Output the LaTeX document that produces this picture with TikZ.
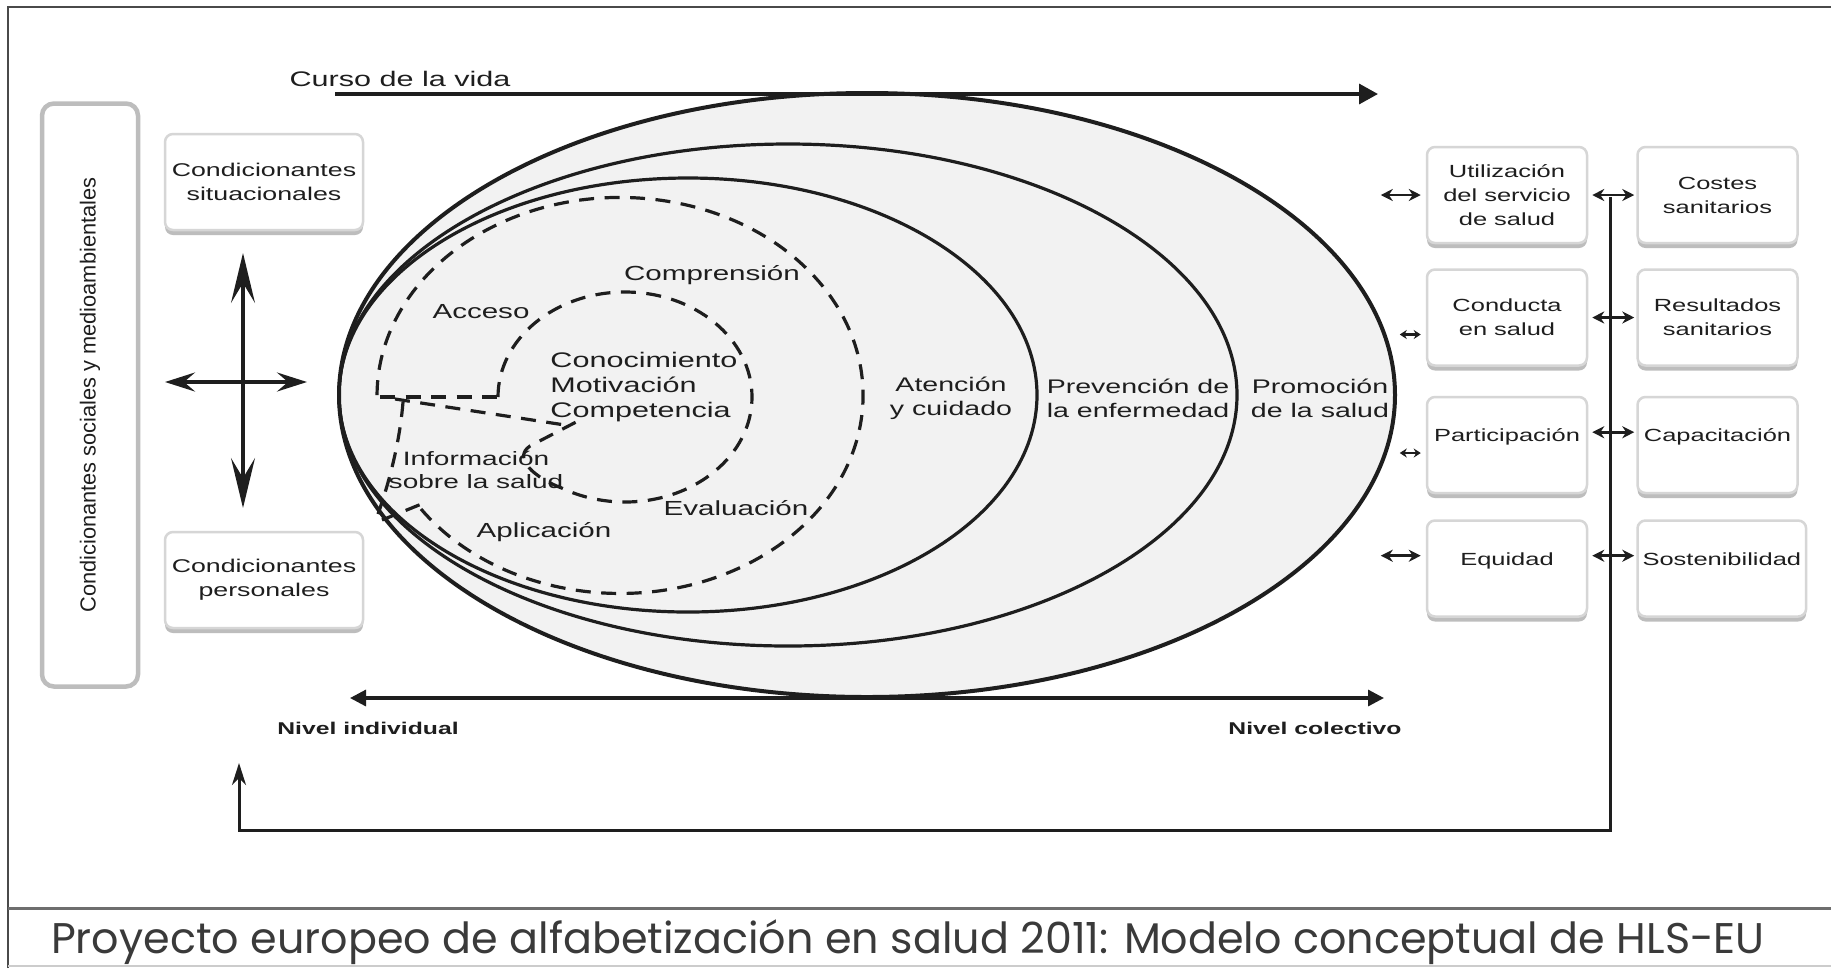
\documentclass[tikz,border=0pt]{standalone}
\usepackage{fontspec}
\usepackage{tikz}
\usetikzlibrary{positioning,arrows.meta,shadows}
\setmainfont{Liberation Sans}[FakeStretch=1.45]
\newfontfamily\plainsans{Liberation Sans}
\newfontfamily\capsans{Poppins}
\definecolor{cInk}{HTML}{1E1E1E}
\definecolor{cFill}{HTML}{F2F2F2}
\definecolor{cBoxLine}{HTML}{D6D6D6}
\definecolor{cShadow}{HTML}{BDBDBD}
\definecolor{cFrame}{HTML}{4A4A4A}
\definecolor{cCap}{HTML}{3A3A3A}
\tikzset{
  blk/.style={draw=cBoxLine, line width=0.25mm, fill=white, rounded corners=0.8mm,
              align=center, inner sep=0.5mm, text=cInk, font=\fontsize{5.0}{6.8}\selectfont,
              drop shadow={shadow xshift=0mm, shadow yshift=-0.5mm, fill=cShadow, opacity=1}},
  lbox/.style={blk, minimum width=19.8mm, minimum height=9.6mm, font=\fontsize{5.25}{6.9}\selectfont},
  rbox/.style={blk, minimum width=16mm, minimum height=9.6mm},
  hibox/.style={text height=1.5mm, text depth=2.2mm},
  lbl/.style={text=cInk, align=center, inner sep=0.5pt, font=\fontsize{5.8}{6.9}\selectfont},
  rng/.style={text=cInk, align=center, inner sep=0.5pt, font=\fontsize{5.6}{6.8}\selectfont},
  ring/.style={draw=cInk, line width=0.32mm},
  dsh/.style={draw=cInk, line width=0.32mm, dash pattern=on 1.5mm off 1.05mm},
  curar/.style={draw=cInk, line width=0.34mm, -{Triangle[length=1.9mm,width=2mm]}},
  nivar/.style={draw=cInk, line width=0.32mm, {Triangle[length=1.6mm,width=1.6mm]}-{Triangle[length=1.6mm,width=1.6mm]}},
  crossv/.style={draw=cInk, line width=0.34mm, {Stealth[length=5mm,width=2.4mm,inset=2mm]}-{Stealth[length=5mm,width=2.4mm,inset=2mm]}},
  crossh/.style={draw=cInk, line width=0.34mm, {Stealth[length=3mm,width=1.9mm,inset=1.1mm]}-{Stealth[length=3mm,width=1.9mm,inset=1.1mm]}},
  dar/.style={draw=cInk, line width=0.27mm, {Stealth[length=1.2mm,width=1.2mm]}-{Stealth[length=1.2mm,width=1.2mm]}},
  dars/.style={draw=cInk, line width=0.22mm, {Stealth[length=0.7mm,width=0.9mm]}-{Stealth[length=0.7mm,width=0.9mm]}},
  fbar/.style={draw=cInk, line width=0.3mm, -{Stealth[length=2.2mm,width=1.4mm,inset=0.7mm]}},
}

\begin{document}
\begin{tikzpicture}[x=0.1mm, y=-0.1mm]
  \useasboundingbox (0,0) rectangle (1831,968);
  \fill[white] (0,0) rectangle (1831,968);
  \draw[cFrame, line width=0.2mm] (8,968) -- (8,7) -- (1831,7);
  \draw[cFrame!80, line width=0.3mm] (8,908) -- (1831,908);
  \draw[black!20, line width=0.15mm] (8,966) -- (1831,966);

  \fill[cFill] (867,395) ellipse[x radius=528, y radius=302];
  \draw[ring, line width=0.4mm] (867,395) ellipse[x radius=528, y radius=302];
  \draw[ring] (788,395) ellipse[x radius=449, y radius=251];
  \draw[ring] (688,395) ellipse[x radius=349, y radius=217];

  \draw[dsh] (421,509) arc[start angle=145, end angle=-180, x radius=243, y radius=198];
  \draw[dsh] (380,397) -- (500,397);
  \draw[dsh] (403,402) .. controls (400,440) and (390,480) .. (378,514);
  \draw[dsh] (382,520) -- (424,503);
  \draw[dsh] (395,399) -- (565,425);
  \draw[dsh] (498,397) arc[start angle=180, end angle=480, x radius=127, y radius=105]
    .. controls (535,478) and (512,458) .. (530,446) -- (578,421);

  \node[lbl] (acc) at (481,312) {Acceso};
  \node[lbl] (comp) at (712,275) {Comprensión};
  \node[lbl, align=left, anchor=west, font=\fontsize{6.0}{7.0}\selectfont] (kmc) at (548,387)
    {Conocimiento\\Motivación\\Competencia};
  \node[lbl, font=\fontsize{5.5}{6.5}\selectfont] (info) at (476,470) {Información\\sobre la salud};
  \node[lbl] (apl) at (544,532) {Aplicación};
  \node[lbl] (eva) at (736,508) {Evaluación};
  \node[rng] (aten) at (951,398) {Atención\\y cuidado};
  \node[rng] (prev) at (1138,398) {Prevención de\\la enfermedad};
  \node[rng] (prom) at (1320,398) {Promoción\\de la salud};

  \node[lbl, font=\fontsize{6.0}{7.0}\selectfont] (curso) at (400,79) {Curso de la vida};
  \coordinate (cursoS) at (335,94);
  \coordinate (cursoE) at (1378,94);
  \draw[curar] (cursoS) -- (cursoE);
  \coordinate (nivL) at (350,698);
  \coordinate (nivR) at (1384,698);
  \draw[nivar] (nivL) -- (nivR);
  \node[lbl, font=\bfseries\fontsize{4.85}{6}\selectfont] (nivi) at (368,728) {Nivel individual};
  \node[lbl, font=\bfseries\fontsize{4.85}{6}\selectfont] (nivc) at (1315,728) {Nivel colectivo};

  \node[draw=cShadow, line width=0.45mm, rounded corners=1.2mm, fill=white, rotate=90,
        minimum width=58.3mm, minimum height=9.6mm, text=cInk,
        font=\plainsans\fontsize{6.2}{7}\selectfont] (soc) at (90,395)
    {Condicionantes sociales y medioambientales};
  \node[lbox] (sit) at (264,182) {Condicionantes\\situacionales};
  \node[lbox] (pers) at (264,580) {Condicionantes\\personales};
  \coordinate (crN) at (243,253);
  \coordinate (crS) at (243,508);
  \coordinate (crW) at (165,382);
  \coordinate (crE) at (307,382);
  \draw[crossv] (crN) -- (crS);
  \draw[crossh] (crW) -- (crE);

  \node[rbox] (util) at (1507,195) {Utilización\\del servicio\\de salud};
  \node[rbox, below=2.4mm of util] (cond) {Conducta\\en salud};
  \node[rbox, hibox, below=2.9mm of cond] (part) {Participación};
  \node[rbox, hibox, below=2.5mm of part] (equi) {Equidad};
  \node[rbox, right=4.8mm of util] (cost) {Costes\\sanitarios};
  \node[rbox, right=4.8mm of cond] (resu) {Resultados\\sanitarios};
  \node[rbox, hibox, right=4.8mm of part] (capa) {Capacitación};
  \node[rbox, hibox, right=4.8mm of equi] (sost) {Sostenibilidad};

  \draw[dar] ([xshift=-4.5mm]util.west) -- ([xshift=-0.5mm]util.west);
  \draw[dars] ([xshift=-2.6mm,yshift=-1.7mm]cond.west) -- ([xshift=-0.5mm,yshift=-1.7mm]cond.west);
  \draw[dars] ([xshift=-2.6mm,yshift=-0.8mm]part.west) -- ([xshift=-0.5mm,yshift=-0.8mm]part.west);
  \draw[dar] ([xshift=-4.5mm]equi.mid west) -- ([xshift=-0.5mm]equi.mid west);

  \coordinate (fbTop) at (1610,197);
  \coordinate (fbLeft) at (239,830);
  \coordinate (fbTip) at (239,763);
  \draw[fbar] (fbTop) |- (fbLeft) -- (fbTip);
  \draw[dar, shorten <=0.4mm, shorten >=0.2mm] (util.east) -- (cost.west);
  \draw[dar, shorten <=0.4mm, shorten >=0.2mm] (cond.east) -- (resu.west);
  \draw[dar, shorten <=0.4mm, shorten >=0.2mm] (part.mid east) -- (capa.mid west);
  \draw[dar, shorten <=0.4mm, shorten >=0.2mm] (equi.mid east) -- (sost.mid west);

  \node[font=\capsans\fontsize{12.2}{14}\selectfont, text=cCap, anchor=base] (cap) at (908,953)
    {Proyecto europeo de alfabetización en salud 2011: Modelo conceptual de HLS-EU};
\end{tikzpicture}
\end{document}
